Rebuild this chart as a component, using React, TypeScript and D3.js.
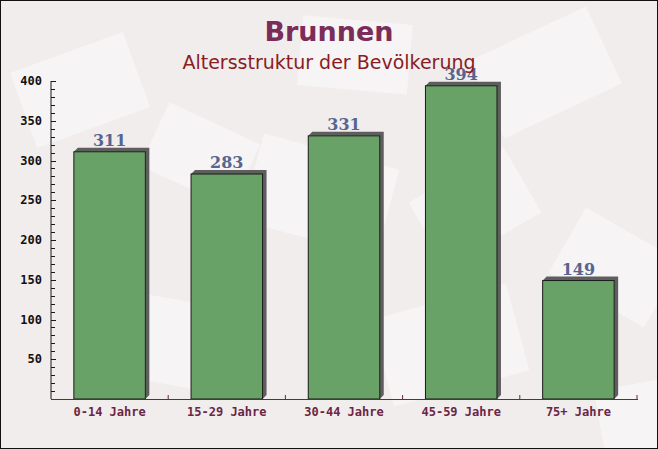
import React, { useEffect, useRef } from "react";
import * as d3 from "d3";

// chart data
const categories = ["0-14 Jahre", "15-29 Jahre", "30-44 Jahre", "45-59 Jahre", "75+ Jahre"];
const values = [311, 283, 331, 394, 149];
const yTicks = [50, 100, 150, 200, 250, 300, 350, 400];

const W = 658;
const H = 449;

const App = () => {
  const svgRef = useRef<SVGSVGElement>(null);

  useEffect(() => {
    const svg = d3.select(svgRef.current);
    svg.selectAll("*").remove();

    const margin = { top: 81, right: 20, bottom: 50, left: 51 };
    const x0 = margin.left;
    const x1 = W - margin.right;
    const yBottom = H - margin.bottom;

    // background
    svg.append("rect").attr("x", 0).attr("y", 0).attr("width", W).attr("height", H).attr("fill", "#f1eded");

    // faint envelope shapes for texture
    const env = [
      [20, 50, 120, 80, -20],
      [250, 150, 140, 90, 15],
      [480, 30, 130, 85, -25],
      [560, 230, 110, 75, 30],
      [110, 300, 130, 85, 10],
      [380, 300, 140, 90, -15],
      [300, 20, 110, 70, 5],
      [600, 380, 120, 80, -10],
      [150, 120, 100, 70, 25],
      [420, 170, 110, 75, -30],
    ];
    env.forEach(([ex, ey, ew, eh, r]) => {
      svg
        .append("rect")
        .attr("x", ex)
        .attr("y", ey)
        .attr("width", ew)
        .attr("height", eh)
        .attr("fill", "#ffffff")
        .attr("opacity", 0.4)
        .attr("transform", `rotate(${r},${ex + ew / 2},${ey + eh / 2})`);
    });

    const xScale = d3.scaleBand().domain(categories).range([x0, x1 - 1]).paddingInner(0.39).paddingOuter(0.195);
    const yScale = d3.scaleLinear().domain([0, 400]).range([yBottom, margin.top]);

    // bars with 3d shadow
    const d = 4;
    categories.forEach((c, i) => {
      const bx = xScale(c)!;
      const bw = xScale.bandwidth();
      const by = yScale(values[i]);
      svg
        .append("polygon")
        .attr(
          "points",
          `${bx},${by} ${bx + d},${by - d} ${bx + bw + d},${by - d} ${bx + bw + d},${yBottom - d} ${bx + bw},${yBottom} ${bx + bw},${by}`
        )
        .attr("fill", "#5e5e5e");
      svg
        .append("rect")
        .attr("x", bx)
        .attr("y", by)
        .attr("width", bw)
        .attr("height", yBottom - by)
        .attr("fill", "#68a266")
        .attr("stroke", "#1a1a1a")
        .attr("stroke-width", 1);
      svg
        .append("text")
        .attr("x", bx + bw / 2)
        .attr("y", by - 6)
        .attr("text-anchor", "middle")
        .style("font-family", "'DejaVu Serif', serif")
        .style("font-weight", "bold")
        .style("font-size", "16px")
        .style("fill", "#56658f")
        .text(values[i]);
    });

    // y axis
    const axisColor = "#1a1a1a";
    svg.append("line").attr("x1", x0).attr("x2", x0).attr("y1", margin.top).attr("y2", yBottom).attr("stroke", axisColor);
    d3.range(0, 401, 10).forEach((v) => {
      const major = v % 50 === 0;
      svg
        .append("line")
        .attr("x1", x0)
        .attr("x2", x0 + (major ? 5 : 4))
        .attr("y1", Math.round(yScale(v)) + 0.5)
        .attr("y2", Math.round(yScale(v)) + 0.5)
        .attr("stroke", axisColor);
    });
    yTicks.forEach((v) => {
      svg
        .append("text")
        .attr("x", x0 - 9)
        .attr("y", yScale(v) + 4)
        .attr("text-anchor", "end")
        .style("font-family", "'DejaVu Sans Mono', monospace")
        .style("font-weight", "bold")
        .style("font-size", "12px")
        .style("fill", "#111111")
        .text(v);
    });

    // x axis
    const xColor = "#6b2545";
    svg.append("line").attr("x1", x0).attr("x2", x1).attr("y1", yBottom + 0.5).attr("y2", yBottom + 0.5).attr("stroke", xColor);
    categories.forEach((c) => {
      const tx = xScale(c)! + xScale.bandwidth() / 2 + xScale.step() / 2;
      svg
        .append("line")
        .attr("x1", tx)
        .attr("x2", tx)
        .attr("y1", yBottom)
        .attr("y2", yBottom - 4)
        .attr("stroke", xColor);
      svg
        .append("text")
        .attr("x", xScale(c)! + xScale.bandwidth() / 2)
        .attr("y", yBottom + 17)
        .attr("text-anchor", "middle")
        .style("font-family", "'DejaVu Sans Mono', monospace")
        .style("font-weight", "bold")
        .style("font-size", "12px")
        .style("fill", xColor)
        .text(c);
    });

    // titles
    svg
      .append("text")
      .attr("x", W / 2)
      .attr("y", 41)
      .attr("text-anchor", "middle")
      .style("font-family", "'DejaVu Sans', sans-serif")
      .style("font-weight", "bold")
      .style("font-size", "27px")
      .style("fill", "#7a2d58")
      .text("Brunnen");
    svg
      .append("text")
      .attr("x", W / 2)
      .attr("y", 69)
      .attr("text-anchor", "middle")
      .style("font-family", "'DejaVu Sans', sans-serif")
      .style("font-size", "19px")
      .style("fill", "#8a1c24")
      .text("Altersstruktur der Bevölkerung");

    // border
    svg
      .append("rect")
      .attr("x", 0.5)
      .attr("y", 0.5)
      .attr("width", W - 1)
      .attr("height", H - 1)
      .attr("fill", "none")
      .attr("stroke", "#111111");
  }, []);

  return (
    <div style={{ position: "fixed", left: 0, top: 0 }}>
      <svg ref={svgRef} width={W} height={H} style={{ display: "block" }} />
    </div>
  );
};

export default App;
